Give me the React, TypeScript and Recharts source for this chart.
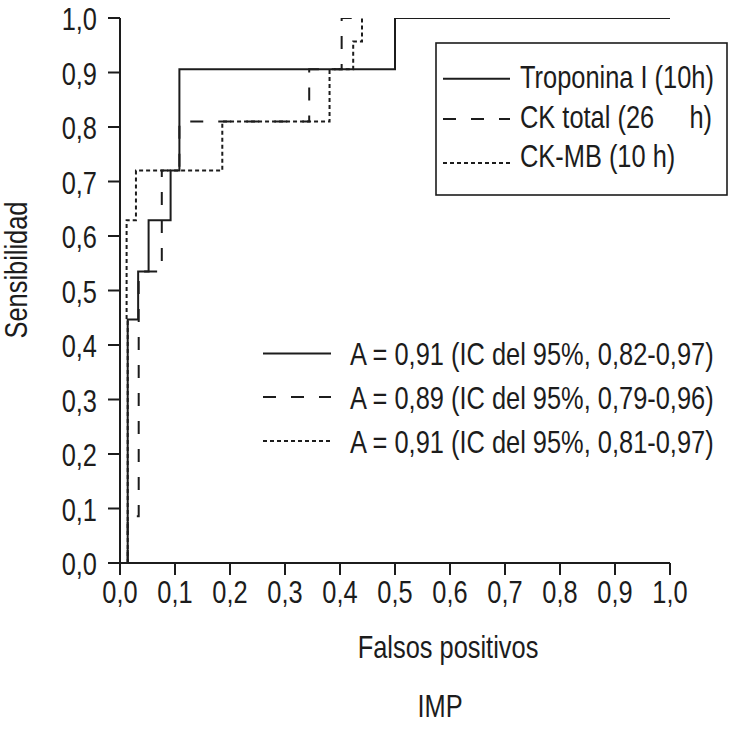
import React from 'react';
import { LineChart, Line, XAxis, YAxis, Customized } from 'recharts';

// ---- data ----
const tickValues = [0, 0.1, 0.2, 0.3, 0.4, 0.5, 0.6, 0.7, 0.8, 0.9, 1.0];
const tickLabels = ['0,0', '0,1', '0,2', '0,3', '0,4', '0,5', '0,6', '0,7', '0,8', '0,9', '1,0'];

const tropX = [0.014, 0.014, 0.033, 0.033, 0.052, 0.052, 0.092, 0.092, 0.108, 0.108, 0.5, 0.5, 1.0];
const tropY = [0, 0.447, 0.447, 0.535, 0.535, 0.629, 0.629, 0.72, 0.72, 0.906, 0.906, 1.0, 1.0];

const ckX = [0.014, 0.014, 0.034, 0.034, 0.076, 0.076, 0.108, 0.108, 0.344, 0.344, 0.403, 0.403, 0.44];
const ckY = [0, 0.086, 0.086, 0.535, 0.535, 0.72, 0.72, 0.81, 0.81, 0.906, 0.906, 1.0, 1.0];

const mbX = [0.014, 0.014, 0.012, 0.012, 0.029, 0.029, 0.186, 0.186, 0.381, 0.381, 0.424, 0.424, 0.44, 0.44];
const mbY = [0, 0.447, 0.447, 0.629, 0.629, 0.72, 0.72, 0.81, 0.81, 0.906, 0.906, 0.957, 0.957, 1.0];

const seriesNames = ['Troponina I (10h)', 'CK total (26     h)', 'CK-MB (10 h)'];
const aucLabels = [
  'A = 0,91 (IC del 95%, 0,82-0,97)',
  'A = 0,89 (IC del 95%, 0,79-0,96)',
  'A = 0,91 (IC del 95%, 0,81-0,97)',
];
const xAxisTitle = 'Falsos positivos';
const yAxisTitle = 'Sensibilidad';
const subTitle = 'IMP';

const toPoints = (xs: number[], ys: number[]) => xs.map((x, i) => ({ x, y: ys[i] }));
const tropData = toPoints(tropX, tropY);
const ckData = toPoints(ckX, ckY);
const mbData = toPoints(mbX, mbY);

// ---- styles ----
const INK = '#1c1c1c';
const DASHES = ['', '13 15', '4 3'];
const FONT = "'Liberation Sans', Arial, Helvetica, sans-serif";

function CText({ x, y, text, anchor = 'start', rotate = 0, size = 31 }: any) {
  return (
    <text
      transform={`translate(${x} ${y}) rotate(${rotate}) scale(0.82 1)`}
      x={0}
      y={0}
      fontSize={size}
      fontFamily={FONT}
      textAnchor={anchor}
      fill={INK}
      style={{ whiteSpace: 'pre' }}
    >
      {text}
    </text>
  );
}

const labelFor = (v: number) => {
  const i = tickValues.findIndex((t) => Math.abs(t - v) < 1e-6);
  return i >= 0 ? tickLabels[i] : String(v);
};

const XTick = (props: any) => {
  const { x, payload } = props;
  return <CText x={x} y={603} text={labelFor(payload.value)} anchor="middle" />;
};

const YTick = (props: any) => {
  const { y, payload } = props;
  return <CText x={97} y={y + 12} text={labelFor(payload.value)} anchor="end" />;
};

const Overlay = () => {
  const legendRowsLineY = [78.7, 119, 163];
  const legendRowsTextY = [87.5, 128, 167];
  const aucLineY = [353.5, 397, 441];
  const aucTextY = [365, 408.5, 452.5];
  return (
    <g>
      <rect x={436} y={43} width={291} height={152} fill="none" stroke={INK} strokeWidth={1.6} />
      {seriesNames.map((n, i) => (
        <g key={n}>
          <line x1={443} x2={510} y1={legendRowsLineY[i]} y2={legendRowsLineY[i]} stroke={INK} strokeWidth={2} strokeDasharray={DASHES[i] || undefined} />
          <CText x={520} y={legendRowsTextY[i]} text={n} />
        </g>
      ))}
      {aucLabels.map((n, i) => (
        <g key={n + i}>
          <line x1={263} x2={331} y1={aucLineY[i]} y2={aucLineY[i]} stroke={INK} strokeWidth={2} strokeDasharray={DASHES[i] || undefined} />
          <CText x={350} y={aucTextY[i]} text={n} />
        </g>
      ))}
      <CText x={448} y={658} text={xAxisTitle} anchor="middle" />
      <CText x={440} y={717} text={subTitle} anchor="middle" />
      <CText x={27} y={270} text={yAxisTitle} anchor="middle" rotate={-90} />
    </g>
  );
};

export default function App() {
  return (
    <div style={{ position: 'absolute', left: 0, top: 0, width: 730, height: 729, background: '#fff' }}>
      <LineChart width={730} height={729} margin={{ top: 18, right: 60, bottom: 0, left: 0 }}>
        <XAxis
          type="number"
          dataKey="x"
          domain={[0, 1]}
          ticks={tickValues}
          interval={0}
          height={166}
          tickSize={12}
          axisLine={{ stroke: INK, strokeWidth: 2 }}
          tickLine={{ stroke: INK, strokeWidth: 2 }}
          tick={<XTick />}
          allowDataOverflow
        />
        <YAxis
          type="number"
          dataKey="y"
          domain={[0, 1]}
          ticks={tickValues}
          interval={0}
          width={120}
          tickSize={12}
          axisLine={{ stroke: INK, strokeWidth: 2 }}
          tickLine={{ stroke: INK, strokeWidth: 2 }}
          tick={<YTick />}
          allowDataOverflow
        />
        <Line data={tropData} dataKey="y" type="linear" stroke={INK} strokeWidth={2} dot={false} activeDot={false} isAnimationActive={false} name={seriesNames[0]} />
        <Line data={ckData} dataKey="y" type="linear" stroke={INK} strokeWidth={2} strokeDasharray={DASHES[1]} dot={false} activeDot={false} isAnimationActive={false} name={seriesNames[1]} />
        <Line data={mbData} dataKey="y" type="linear" stroke={INK} strokeWidth={2} strokeDasharray={DASHES[2]} dot={false} activeDot={false} isAnimationActive={false} name={seriesNames[2]} />
        <Customized component={<Overlay />} />
      </LineChart>
    </div>
  );
}
